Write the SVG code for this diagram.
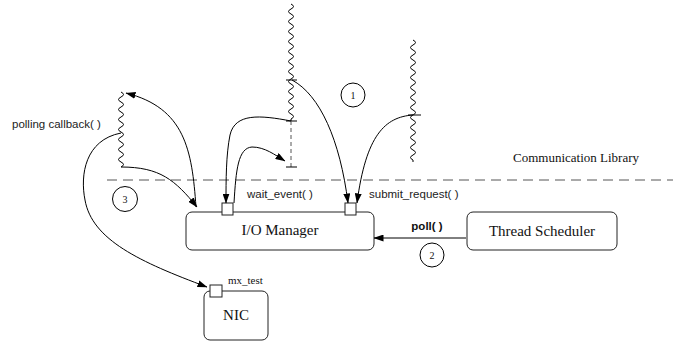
<svg xmlns="http://www.w3.org/2000/svg" width="673" height="343" viewBox="0 0 673 343">
<defs>
<marker id="ah" markerUnits="userSpaceOnUse" markerWidth="10" markerHeight="7" refX="9.5" refY="3.5" orient="auto">
<path d="M0,0 L10,3.5 L0,7 z" fill="#000"/>
</marker>
<style>
.box{fill:#fff;stroke:#222;stroke-width:1}
.port{fill:#fff;stroke:#222;stroke-width:1}
.conn{fill:none;stroke:#000;stroke-width:1;marker-end:url(#ah)}
.wave{fill:none;stroke:#000;stroke-width:1}
.tick{stroke:#000;stroke-width:1}
.serif{font-family:"Liberation Serif",serif;fill:#111}
.sans{font-family:"Liberation Sans",Arial,sans-serif;fill:#222;font-size:11.5px}
.num{fill:#fff;stroke:#000;stroke-width:1}
</style>
</defs>
<rect width="673" height="343" fill="#fff"/>

<g id="boundary">
<line x1="107" y1="180" x2="673" y2="180" stroke="#555" stroke-width="1" stroke-dasharray="10,6"/>
<text class="serif" x="513" y="162" font-size="13">Communication Library</text>
</g>

<g id="thread-callback">
<path class="wave" d="M121,92 q5,2.5 0,5 t0,5 t0,5 t0,5 t0,5 t0,5 t0,5 t0,5 t0,5 t0,5 t0,5 t0,5 t0,5 t0,5 t0,5"/>
<text class="sans" x="12" y="128">polling callback( )</text>
</g>

<g id="thread-1">
<path class="wave" d="M291,4 q5,2.5 0,5 t0,5 t0,5 t0,5 t0,5 t0,5 t0,5 t0,5 t0,5 t0,5 t0,5 t0,5 t0,5 t0,5 t0,5 t0,5 t0,5 t0,5 t0,5 t0,5 t0,5 t0,5 t0,5 l0,2"/>
<line class="tick" x1="286" y1="80" x2="297" y2="80"/>
<line class="tick" x1="286" y1="121" x2="297" y2="121"/>
<line x1="291" y1="121" x2="291" y2="167" stroke="#555" stroke-width="1" stroke-dasharray="4,3"/>
<line class="tick" x1="286" y1="167" x2="297" y2="167"/>
</g>

<g id="thread-2">
<path class="wave" d="M413,40 q5,2.5 0,5 t0,5 t0,5 t0,5 t0,5 t0,5 t0,5 t0,5 t0,5 t0,5 t0,5 t0,5 t0,5 t0,5 t0,5 t0,5 t0,5 t0,5 t0,5 t0,5 t0,5 t0,5 t0,5 t0,5 l0,2"/>
<line class="tick" x1="408" y1="115" x2="421" y2="115"/>
</g>

<g id="io-manager">
<rect class="box" x="186" y="212" width="188" height="38" rx="6"/>
<rect class="port" x="222" y="203" width="11" height="12"/>
<rect class="port" x="345" y="203" width="11" height="12"/>
<text class="serif" x="280" y="235" font-size="15" text-anchor="middle">I/O Manager</text>
<text class="sans" x="247" y="198">wait_event( )</text>
<text class="sans" x="369" y="198">submit_request( )</text>
</g>

<g id="thread-scheduler">
<rect class="box" x="467" y="212" width="150" height="38" rx="6"/>
<text class="serif" x="542" y="236" font-size="15" text-anchor="middle">Thread Scheduler</text>
</g>

<g id="nic">
<rect class="box" x="204" y="291" width="64" height="49" rx="6"/>
<rect class="port" x="210" y="285" width="12" height="12"/>
<text class="serif" x="236" y="320" font-size="15" text-anchor="middle">NIC</text>
<text class="serif" x="228" y="284" font-size="11">mx_test</text>
</g>

<g id="labels">
<circle class="num" cx="353" cy="95" r="12"/>
<text class="serif" x="353" y="99" font-size="10" text-anchor="middle">1</text>
<circle class="num" cx="432" cy="255" r="12"/>
<text class="serif" x="432" y="259" font-size="10" text-anchor="middle">2</text>
<circle class="num" cx="125" cy="199" r="12.5"/>
<text class="serif" x="125" y="203" font-size="10" text-anchor="middle">3</text>
<text x="427" y="230" font-family="Liberation Sans, Arial, sans-serif" font-size="11.5" font-weight="bold" text-anchor="middle" fill="#111">poll( )</text>
</g>

<g id="connectors">
<path class="conn" d="M196,207 C192,150 185,108 126,93"/>
<path class="conn" d="M121,167 C160,167 175,180 197,207"/>
<path class="conn" d="M121,133 C85,140 80,175 85,200 C92,240 140,262 207,287"/>
<path class="conn" d="M292,80 C320,95 340,140 348,203"/>
<path class="conn" d="M291,121 C260,115 235,113 230,135 C226,155 226,180 226,203"/>
<path class="conn" d="M234,203 C236,170 238,148 252,147 C265,147 275,155 285,161"/>
<path class="conn" d="M413,115 C385,117 366,135 357,203"/>
<path class="conn" d="M466,238 L374,238"/>
</g>
</svg>
